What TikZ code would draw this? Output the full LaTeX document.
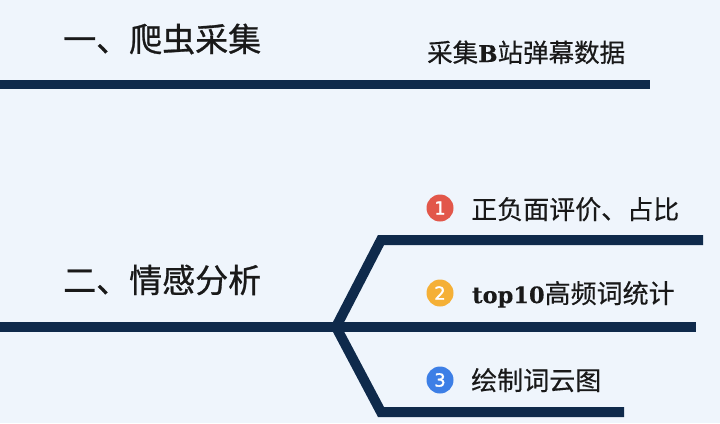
\documentclass[tikz,border=0pt]{standalone}
\usepackage{fontspec}
\setmainfont{Noto Sans CJK SC}
\newfontfamily\cjk[FakeBold=0.35]{Noto Sans CJK SC}
\newfontfamily\cjkt[FakeBold=0.8]{Noto Sans CJK SC}
\newfontfamily\slab[FakeBold=0.4]{DejaVu Serif}
\newfontfamily\numf[FakeBold=1.5]{DejaVu Sans}
\definecolor{bgc}{HTML}{EFF5FC}
\definecolor{navy}{HTML}{0F2A4B}
\definecolor{dotred}{HTML}{E2574A}
\definecolor{dotorange}{HTML}{F5B036}
\definecolor{dotblue}{HTML}{3D7FE6}
\tikzset{
  bar/.style={draw=navy, line width=10pt, line cap=butt, line join=miter},
  titletext/.style={anchor=base west, inner sep=0pt, font=\cjkt\fontsize{33}{36}\selectfont, text=black!90},
  itemtext/.style={anchor=base west, inner sep=0pt, font=\cjk\fontsize{26}{28}\selectfont, text=black!90},
  numdot/.style={circle, minimum size=27pt, inner sep=0pt, text=white, font=\numf\fontsize{18}{18}\selectfont}
}
\begin{document}
\begin{tikzpicture}[x=1pt,y=-1pt]
\fill[bgc] (0,0) rectangle (720,423);
\useasboundingbox (0,0) rectangle (720,423);
% connector points
\coordinate (aL) at (0,84.5);
\coordinate (aR) at (650,84.5);
\coordinate (bL) at (0,327);
\coordinate (bR) at (696,327);
\coordinate (fork) at (336,327);
\coordinate (u1) at (381,240);
\coordinate (u2) at (703,240);
\coordinate (d1) at (381,412);
\coordinate (d2) at (624,412);
\draw[bar, line width=9pt] (aL) -- (aR);
\draw[bar] (bL) -- (bR);
\draw[bar] (u2) -- (u1) -- (fork) -- (d1) -- (d2);
% texts
\node[titletext] (t1) at (63,51.5) {一、爬虫采集};
\node[itemtext, font=\cjk\fontsize{25.5}{28}\selectfont] (s1) at (427,62) {采集{\slab\bfseries\fontsize{23}{26}\selectfont B}站弹幕数据};
\node[titletext] (t2) at (63,292.5) {二、情感分析};
\node[numdot, fill=dotred] (n1) at (440,208) {1};
\node[numdot, fill=dotorange] (n2) at (440,293) {2};
\node[numdot, fill=dotblue] (n3) at (440,380) {3};
\node[itemtext] (i1) at (471,219) {正负面评价、占比};
\node[itemtext] (i2) at (472,303) {{\slab\bfseries\fontsize{22.5}{26}\selectfont top10}高频词统计};
\node[itemtext] (i3) at (471,390) {绘制词云图};
\end{tikzpicture}
\end{document}
